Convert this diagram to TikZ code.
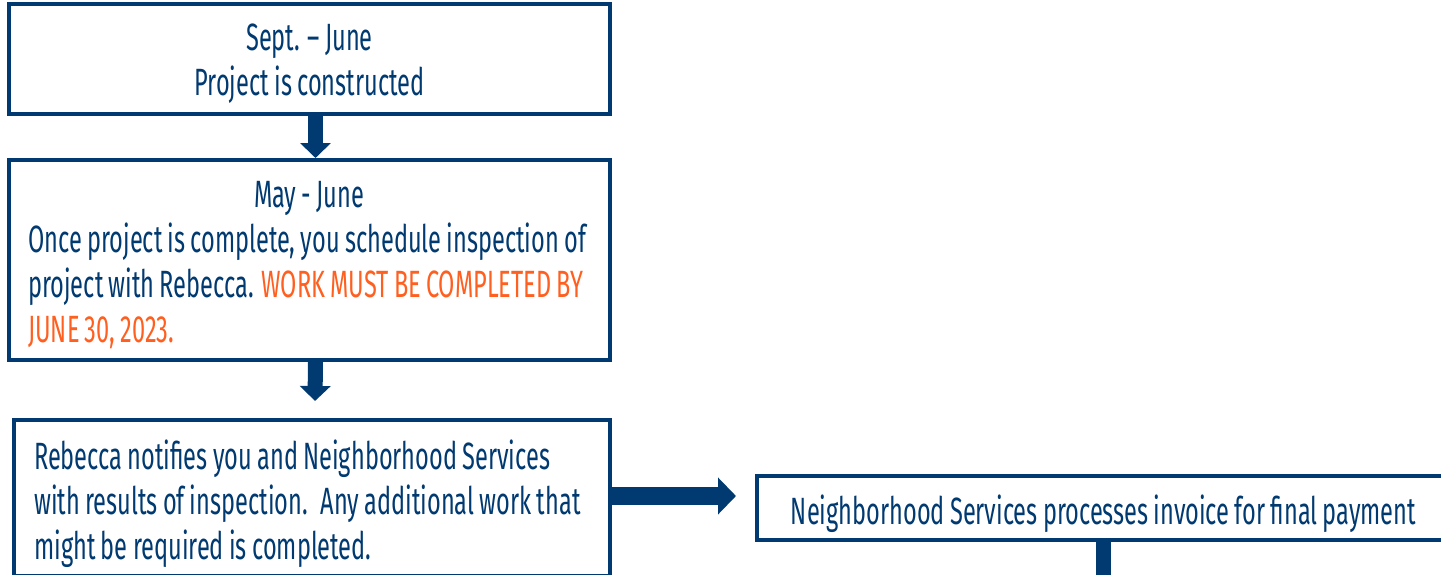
\documentclass[tikz,border=0pt]{standalone}
\usepackage{fontspec}
\setmainfont[FakeStretch=0.62,WordSpace=0.85]{Fira Sans}
\usetikzlibrary{arrows.meta}
\definecolor{navy}{RGB}{0,58,112}
\definecolor{warn}{RGB}{255,95,31}
\newcommand{\natsp}{\spaceskip=0pt\relax\xspaceskip=0pt\relax}
\begin{document}
\begin{tikzpicture}[x=1pt,y=-1pt,
 box/.style={draw=navy, line width=4pt, fill=white, inner sep=0pt},
 txt/.style={inner sep=0pt, text=navy, font=\fontsize{38}{45}\selectfont},
 vflow/.style={draw=navy, line width=15pt, -{Triangle[width=30pt,length=15pt]}},
 hflow/.style={draw=navy, line width=18pt, -{Triangle[width=36pt,length=18pt]}}]
\clip (0,0) rectangle (1441,574);
\fill[white] (0,0) rectangle (1441,574);
% boxes
\node[box, minimum width=601pt, minimum height=110pt] (b1) at (309.5,59) {};
\node[box, minimum width=601pt, minimum height=200pt] (b2) at (309.5,260) {};
\node[box, minimum width=596pt, minimum height=156pt] (b3) at (312,498) {};
\node[box, minimum width=693pt, minimum height=64pt] (b4) at (1103.5,508) {};
% texts
\node[txt, align=center] (t1) at (309.5,64)
 {Sept. – June\\Project is constructed};
\node[txt, anchor=west, text width=562pt, align=left] (t2) at (28,265.5)
 {\natsp\makebox[\linewidth]{May - June}\\
  \mbox{Once project is complete, you schedule inspection of}\\
  \mbox{project with Rebecca. \textcolor{warn}{WORK MUST BE COMPLETED BY}}\\
  \mbox{\textcolor{warn}{JUNE 30, 2023.}}};
\node[txt, anchor=west, text width=562pt, align=left] (t3) at (34,503.5)
 {\natsp\mbox{Rebecca notifies you and Neighborhood Services}\\
  \mbox{with results of inspection.~ Any additional work that}\\
  \mbox{might be required is completed.}};
\node[txt] (t4) at (1103.5,513.5)
 {Neighborhood Services processes invoice for final payment};
% connectors
\draw[vflow] ([xshift=6pt]b1.south) -- ([xshift=6pt]b2.north);
\draw[vflow] ([xshift=6pt]b2.south) -- ([xshift=3pt,yshift=17pt]b3.north);
\coordinate (rt) at ([xshift=-19pt,yshift=12pt]b4.west);
\draw[hflow] (b3.east |- rt) -- (rt);
\coordinate (dn) at ([yshift=-48pt]b4.south);
\draw[vflow] (b4.south) -- (dn);
\end{tikzpicture}
\end{document}
